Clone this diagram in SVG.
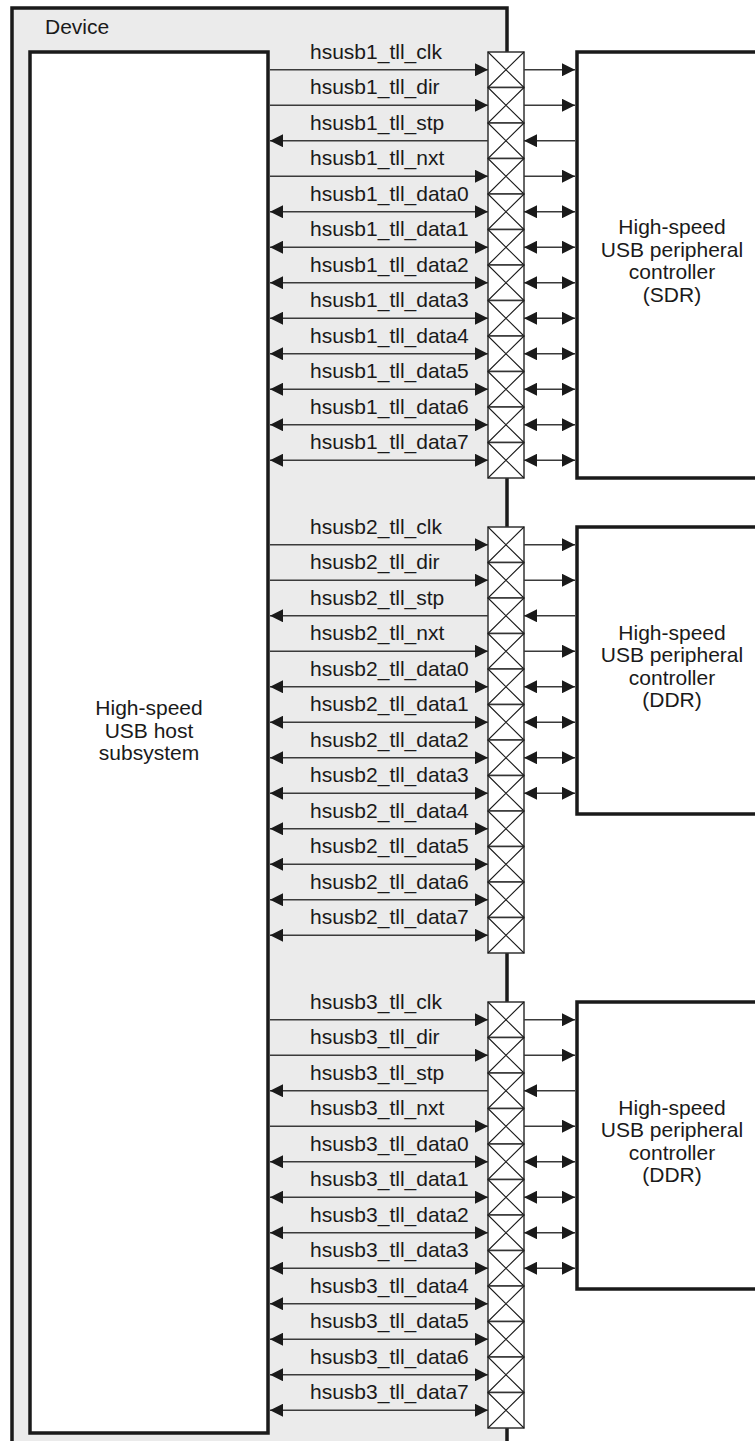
<svg xmlns="http://www.w3.org/2000/svg" xmlns:xlink="http://www.w3.org/1999/xlink" width="755" height="1441" viewBox="0 0 755 1441">
<style>
.box{fill:#ffffff;stroke:#1a1a1a;stroke-width:3.5}
.dev{fill:#ebebeb;stroke:#1a1a1a;stroke-width:3.5}
.t{font-family:"Liberation Sans",Arial,sans-serif;font-size:21px;fill:#1a1a1a}
.c{text-anchor:middle}
.w{stroke:#3a3a3a;stroke-width:1.5;fill:none}
.r{marker-end:url(#ah)}
.l{marker-start:url(#ah)}
.b{marker-start:url(#ah);marker-end:url(#ah)}
</style>
<defs>
<marker id="ah" viewBox="0 0 13 13" refX="13" refY="6.5" markerWidth="13" markerHeight="13" markerUnits="userSpaceOnUse" orient="auto-start-reverse">
<path d="M0,0 L13,6.5 L0,13 z" fill="#1a1a1a"/>
</marker>
<symbol id="cell" viewBox="0 0 36 35.5" width="36" height="35.5" overflow="visible">
<rect x="0" y="0" width="36" height="35.5" fill="#ffffff" stroke="#333" stroke-width="1.5"/>
<path d="M0,0 L36,35.5 M36,0 L0,35.5" stroke="#1a1a1a" stroke-width="1.1" fill="none"/>
</symbol>
</defs>
<rect width="755" height="1441" fill="#ffffff"/>
<g id="device">
<rect class="dev" x="12" y="8" width="495" height="1450"/>
<text class="t" x="45" y="34">Device</text>
</g>
<g id="host">
<rect class="box" x="30" y="52" width="238" height="1381"/>
<text class="t c" x="149" y="715">High-speed</text>
<text class="t c" x="149" y="737.5">USB host</text>
<text class="t c" x="149" y="760">subsystem</text>
</g>
<g id="periph-1">
<rect class="box" x="577" y="52" width="200" height="426" stroke-width="4"/>
<text class="t c" x="672" y="234">High-speed</text>
<text class="t c" x="672" y="256.5">USB peripheral</text>
<text class="t c" x="672" y="279">controller</text>
<text class="t c" x="672" y="301.5">(SDR)</text>
</g>
<g id="periph-2">
<rect class="box" x="577" y="527" width="200" height="287" stroke-width="4"/>
<text class="t c" x="672" y="639.5">High-speed</text>
<text class="t c" x="672" y="662">USB peripheral</text>
<text class="t c" x="672" y="684.5">controller</text>
<text class="t c" x="672" y="707">(DDR)</text>
</g>
<g id="periph-3">
<rect class="box" x="577" y="1002" width="200" height="287" stroke-width="4"/>
<text class="t c" x="672" y="1114.5">High-speed</text>
<text class="t c" x="672" y="1137">USB peripheral</text>
<text class="t c" x="672" y="1159.5">controller</text>
<text class="t c" x="672" y="1182">(DDR)</text>
</g>
<g id="pads-1">
<use href="#cell" x="488" y="52"/><use href="#cell" x="488" y="87.5"/><use href="#cell" x="488" y="123"/><use href="#cell" x="488" y="158.5"/>
<use href="#cell" x="488" y="194"/><use href="#cell" x="488" y="229.5"/><use href="#cell" x="488" y="265"/><use href="#cell" x="488" y="300.5"/>
<use href="#cell" x="488" y="336"/><use href="#cell" x="488" y="371.5"/><use href="#cell" x="488" y="407"/><use href="#cell" x="488" y="442.5"/>
</g>
<g id="pads-2">
<use href="#cell" x="488" y="527"/><use href="#cell" x="488" y="562.5"/><use href="#cell" x="488" y="598"/><use href="#cell" x="488" y="633.5"/>
<use href="#cell" x="488" y="669"/><use href="#cell" x="488" y="704.5"/><use href="#cell" x="488" y="740"/><use href="#cell" x="488" y="775.5"/>
<use href="#cell" x="488" y="811"/><use href="#cell" x="488" y="846.5"/><use href="#cell" x="488" y="882"/><use href="#cell" x="488" y="917.5"/>
</g>
<g id="pads-3">
<use href="#cell" x="488" y="1002"/><use href="#cell" x="488" y="1037.5"/><use href="#cell" x="488" y="1073"/><use href="#cell" x="488" y="1108.5"/>
<use href="#cell" x="488" y="1144"/><use href="#cell" x="488" y="1179.5"/><use href="#cell" x="488" y="1215"/><use href="#cell" x="488" y="1250.5"/>
<use href="#cell" x="488" y="1286"/><use href="#cell" x="488" y="1321.5"/><use href="#cell" x="488" y="1357"/><use href="#cell" x="488" y="1392.5"/>
</g>
<g id="connectors">
<g id="host-side">
<path class="w r" d="M270,69.75H488"/><path class="w r" d="M270,105.25H488"/><path class="w l" d="M270,140.75H488"/><path class="w r" d="M270,176.25H488"/>
<path class="w b" d="M270,211.75H488"/><path class="w b" d="M270,247.25H488"/><path class="w b" d="M270,282.75H488"/><path class="w b" d="M270,318.25H488"/>
<path class="w b" d="M270,353.75H488"/><path class="w b" d="M270,389.25H488"/><path class="w b" d="M270,424.75H488"/><path class="w b" d="M270,460.25H488"/>
<path class="w r" d="M270,544.75H488"/><path class="w r" d="M270,580.25H488"/><path class="w l" d="M270,615.75H488"/><path class="w r" d="M270,651.25H488"/>
<path class="w b" d="M270,686.75H488"/><path class="w b" d="M270,722.25H488"/><path class="w b" d="M270,757.75H488"/><path class="w b" d="M270,793.25H488"/>
<path class="w b" d="M270,828.75H488"/><path class="w b" d="M270,864.25H488"/><path class="w b" d="M270,899.75H488"/><path class="w b" d="M270,935.25H488"/>
<path class="w r" d="M270,1019.75H488"/><path class="w r" d="M270,1055.25H488"/><path class="w l" d="M270,1090.75H488"/><path class="w r" d="M270,1126.25H488"/>
<path class="w b" d="M270,1161.75H488"/><path class="w b" d="M270,1197.25H488"/><path class="w b" d="M270,1232.75H488"/><path class="w b" d="M270,1268.25H488"/>
<path class="w b" d="M270,1303.75H488"/><path class="w b" d="M270,1339.25H488"/><path class="w b" d="M270,1374.75H488"/><path class="w b" d="M270,1410.25H488"/>
</g>
<g id="peripheral-side">
<path class="w r" d="M524,69.75H575"/><path class="w r" d="M524,105.25H575"/><path class="w l" d="M524,140.75H575"/><path class="w r" d="M524,176.25H575"/>
<path class="w b" d="M524,211.75H575"/><path class="w b" d="M524,247.25H575"/><path class="w b" d="M524,282.75H575"/><path class="w b" d="M524,318.25H575"/>
<path class="w b" d="M524,353.75H575"/><path class="w b" d="M524,389.25H575"/><path class="w b" d="M524,424.75H575"/><path class="w b" d="M524,460.25H575"/>
<path class="w r" d="M524,544.75H575"/><path class="w r" d="M524,580.25H575"/><path class="w l" d="M524,615.75H575"/><path class="w r" d="M524,651.25H575"/>
<path class="w b" d="M524,686.75H575"/><path class="w b" d="M524,722.25H575"/><path class="w b" d="M524,757.75H575"/><path class="w b" d="M524,793.25H575"/>
<path class="w r" d="M524,1019.75H575"/><path class="w r" d="M524,1055.25H575"/><path class="w l" d="M524,1090.75H575"/><path class="w r" d="M524,1126.25H575"/>
<path class="w b" d="M524,1161.75H575"/><path class="w b" d="M524,1197.25H575"/><path class="w b" d="M524,1232.75H575"/><path class="w b" d="M524,1268.25H575"/>
</g>
<g id="signal-labels">
<text class="t" x="310" y="58.75">hsusb1_tll_clk</text><text class="t" x="310" y="94.25">hsusb1_tll_dir</text><text class="t" x="310" y="129.75">hsusb1_tll_stp</text><text class="t" x="310" y="165.25">hsusb1_tll_nxt</text>
<text class="t" x="310" y="200.75">hsusb1_tll_data0</text><text class="t" x="310" y="236.25">hsusb1_tll_data1</text><text class="t" x="310" y="271.75">hsusb1_tll_data2</text><text class="t" x="310" y="307.25">hsusb1_tll_data3</text>
<text class="t" x="310" y="342.75">hsusb1_tll_data4</text><text class="t" x="310" y="378.25">hsusb1_tll_data5</text><text class="t" x="310" y="413.75">hsusb1_tll_data6</text><text class="t" x="310" y="449.25">hsusb1_tll_data7</text>
<text class="t" x="310" y="533.75">hsusb2_tll_clk</text><text class="t" x="310" y="569.25">hsusb2_tll_dir</text><text class="t" x="310" y="604.75">hsusb2_tll_stp</text><text class="t" x="310" y="640.25">hsusb2_tll_nxt</text>
<text class="t" x="310" y="675.75">hsusb2_tll_data0</text><text class="t" x="310" y="711.25">hsusb2_tll_data1</text><text class="t" x="310" y="746.75">hsusb2_tll_data2</text><text class="t" x="310" y="782.25">hsusb2_tll_data3</text>
<text class="t" x="310" y="817.75">hsusb2_tll_data4</text><text class="t" x="310" y="853.25">hsusb2_tll_data5</text><text class="t" x="310" y="888.75">hsusb2_tll_data6</text><text class="t" x="310" y="924.25">hsusb2_tll_data7</text>
<text class="t" x="310" y="1008.75">hsusb3_tll_clk</text><text class="t" x="310" y="1044.25">hsusb3_tll_dir</text><text class="t" x="310" y="1079.75">hsusb3_tll_stp</text><text class="t" x="310" y="1115.25">hsusb3_tll_nxt</text>
<text class="t" x="310" y="1150.75">hsusb3_tll_data0</text><text class="t" x="310" y="1186.25">hsusb3_tll_data1</text><text class="t" x="310" y="1221.75">hsusb3_tll_data2</text><text class="t" x="310" y="1257.25">hsusb3_tll_data3</text>
<text class="t" x="310" y="1292.75">hsusb3_tll_data4</text><text class="t" x="310" y="1328.25">hsusb3_tll_data5</text><text class="t" x="310" y="1363.75">hsusb3_tll_data6</text><text class="t" x="310" y="1399.25">hsusb3_tll_data7</text>
</g>
</g>
</svg>
